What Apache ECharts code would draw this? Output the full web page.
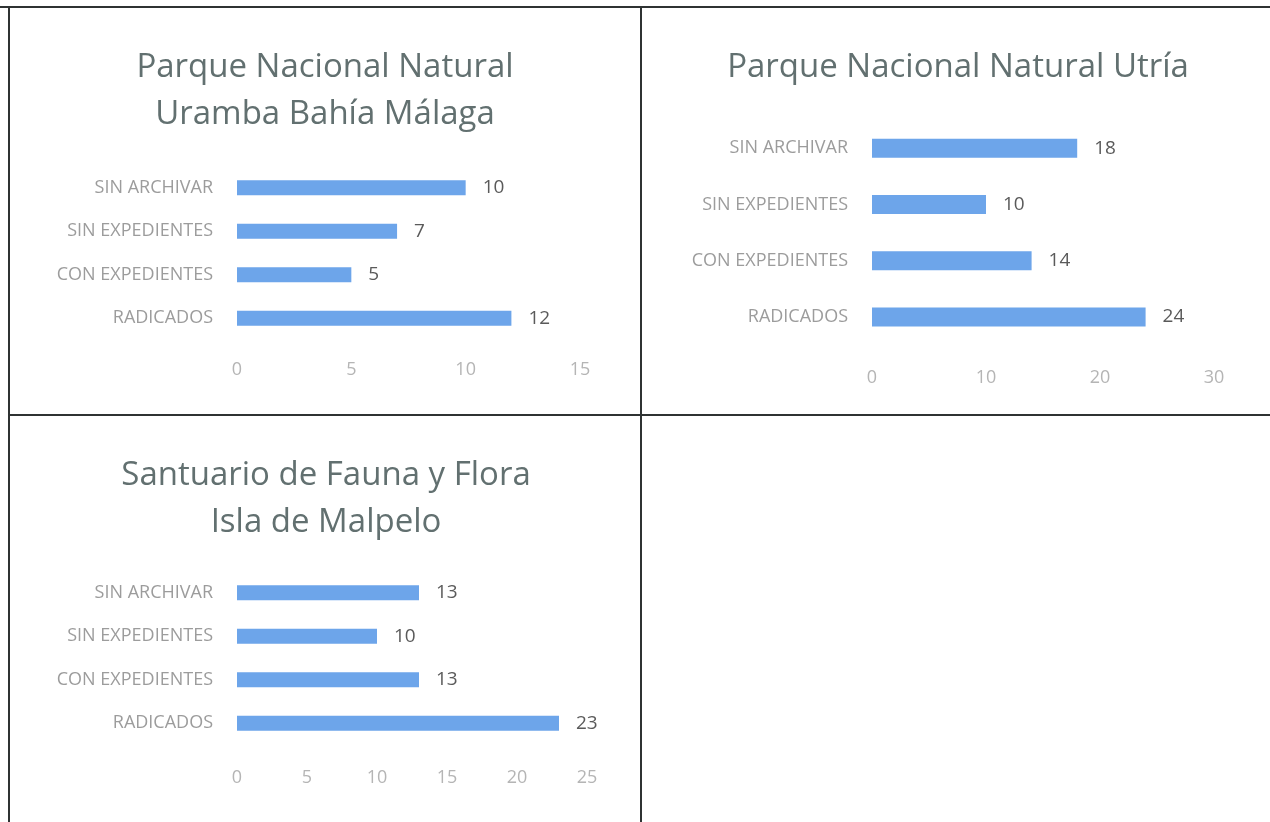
<!DOCTYPE html>
<html>
<head>
<meta charset="utf-8">
<script src="https://cdn.jsdelivr.net/npm/echarts@6/dist/echarts.min.js"></script>
<style>
  html, body { margin: 0; padding: 0; background: #fff; }
  #main { width: 1270px; height: 822px; }
</style>
</head>
<body>
<div id="main"></div>
<script>
// categories from bottom to top
let categories = ['RADICADOS', 'CON EXPEDIENTES', 'SIN EXPEDIENTES', 'SIN ARCHIVAR'];
let urambaValues = [12, 5, 7, 10];
let utriaValues = [24, 14, 10, 18];
let malpeloValues = [23, 13, 10, 13];
let titles = [
    'Parque Nacional Natural\nUramba Bahía Málaga',
    'Parque Nacional Natural Utría',
    'Santuario de Fauna y Flora\nIsla de Malpelo'
];
let axisMax = [15, 30, 25];
let axisStep = [5, 10, 5];

let font = '"Open Sans", "Noto Sans", sans-serif';
let barColor = '#6da5ea';

let grids = [
    { left: 237, width: 343, top: 166, height: 174 },
    { left: 872, width: 342, top: 120, height: 225 },
    { left: 237, width: 350, top: 571, height: 174 }
];
let labelMargin = [21, 24, 24];
let barWidths = [15, 19, 15];
let seriesData = [urambaValues, utriaValues, malpeloValues];

let chart = echarts.init(document.getElementById('main'));

let options = {
    animation: false,
    textStyle: { fontFamily: font },
    title: [
        { text: titles[0], left: 320, top: 39, textAlign: 'center' },
        { text: titles[1], left: 953, top: 39, textAlign: 'center' },
        { text: titles[2], left: 321, top: 447, textAlign: 'center' }
    ].map(function (t) {
        t.textStyle = { fontFamily: font, fontSize: 33, fontWeight: 'normal', color: '#627070', lineHeight: 47 };
        return t;
    }),
    grid: grids,
    xAxis: grids.map(function (g, i) {
        return {
            type: 'value',
            gridIndex: i,
            min: 0,
            max: axisMax[i],
            interval: axisStep[i],
            splitLine: { show: false },
            axisLine: { show: false },
            axisTick: { show: false },
            axisLabel: { color: '#b5b5b5', fontSize: 18, margin: labelMargin[i] }
        };
    }),
    yAxis: grids.map(function (g, i) {
        return {
            type: 'category',
            gridIndex: i,
            data: categories,
            axisLine: { show: false },
            axisTick: { show: false },
            axisLabel: { color: '#9c9c9c', fontSize: 18, margin: 24 }
        };
    }),
    series: seriesData.map(function (d, i) {
        return {
            type: 'bar',
            xAxisIndex: i,
            yAxisIndex: i,
            data: d,
            barWidth: barWidths[i],
            itemStyle: { color: barColor },
            label: {
                show: true,
                position: 'right',
                distance: 17,
                color: '#5a5a5a',
                fontSize: 19
            }
        };
    }),
    graphic: [
        { type: 'line', shape: { x1: 0, y1: 7, x2: 1270, y2: 7 } },
        { type: 'line', shape: { x1: 9, y1: 7, x2: 9, y2: 822 } },
        { type: 'line', shape: { x1: 641, y1: 7, x2: 641, y2: 822 } },
        { type: 'line', shape: { x1: 9, y1: 415, x2: 1270, y2: 415 } }
    ].map(function (l) {
        l.style = { stroke: '#2f3333', lineWidth: 2 };
        return l;
    })
};

chart.setOption(options);
</script>
</body>
</html>
